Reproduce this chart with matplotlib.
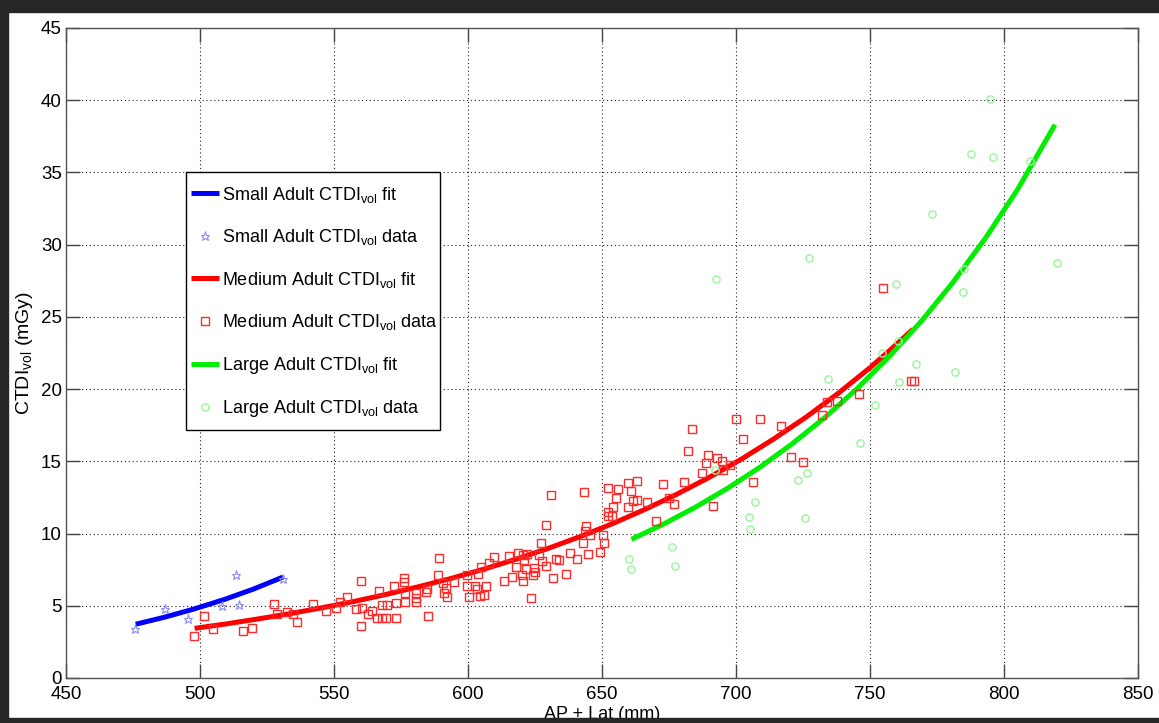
import matplotlib
matplotlib.use("Agg")
import matplotlib.pyplot as plt
from matplotlib.patches import Rectangle

plt.rcParams['font.family'] = ['Liberation Sans', 'DejaVu Sans']
plt.rcParams['mathtext.fontset'] = 'custom'
plt.rcParams['mathtext.rm'] = 'Liberation Sans'
plt.rcParams['mathtext.it'] = 'Liberation Sans'

# ---------------- data ----------------
small_x = [475.7, 487.0, 495.6, 508.1, 513.4, 514.6, 531.1]
small_y = [3.39, 4.78, 4.09, 5.00, 7.13, 5.05, 6.86]

small_fit_x = [476, 487, 498, 509, 520, 531]
small_fit_y = [3.72, 4.22, 4.79, 5.43, 6.16, 6.99]

medium_x = [501.5, 497.8, 505.0, 516.2, 519.3, 527.6, 528.8, 532.6, 534.8, 536.1,
            542.3, 547.0, 550.7, 552.2, 554.7, 558.2, 560.0, 560.0, 560.3, 562.6,
            564.0, 565.9, 566.8, 567.8, 567.8, 569.4, 569.9, 572.5, 573.1, 573.1,
            576.1, 576.1, 576.5, 576.5, 580.6, 580.6, 580.6, 584.6, 584.3, 585.2,
            589.3, 588.9, 590.8, 591.8, 591.0, 592.3, 594.8, 599.7, 599.5, 600.4,
            602.6, 603.5, 603.9, 604.5, 604.9, 606.0, 606.7, 607.9, 609.8, 613.5,
            615.4, 616.5, 617.9, 618.5, 620.4, 620.0, 620.6, 621.0, 621.6, 622.1,
            623.5, 624.1, 624.7, 625.0, 626.5, 627.4, 627.7, 629.1, 629.0, 630.9,
            631.8, 632.8, 634.0, 636.5, 638.1, 640.8, 643.3, 643.0, 643.7, 644.0,
            644.9, 645.5, 649.3, 650.3, 650.7, 652.3, 652.3, 652.3, 653.6, 654.0,
            655.2, 656.1, 659.6, 660.7, 659.6, 661.7, 663.2, 663.2, 666.7, 670.1,
            672.9, 675.1, 676.9, 680.6, 682.0, 683.7, 687.2, 688.7, 689.4, 691.3,
            693.0, 694.7, 695.3, 697.8, 699.9, 702.5, 706.2, 709.0, 716.8, 720.5,
            725.0, 732.2, 734.1, 737.6, 746.0, 754.7, 765.2, 766.5]
medium_y = [4.32, 2.91, 3.39, 3.28, 3.49, 5.10, 4.43, 4.55, 4.43, 3.90,
            5.10, 4.66, 4.82, 5.24, 5.59, 4.75, 6.72, 3.62, 4.87, 4.41,
            4.64, 4.13, 6.02, 5.05, 4.18, 4.13, 5.03, 6.37, 5.22, 4.18,
            6.90, 6.67, 5.86, 5.24, 5.91, 5.56, 5.28, 6.14, 5.93, 4.31,
            8.33, 7.13, 6.60, 6.21, 5.86, 5.59, 6.67, 7.13, 6.37, 5.63,
            6.37, 6.14, 7.20, 5.70, 7.71, 5.75, 6.37, 7.98, 8.40, 6.72,
            8.45, 7.02, 7.71, 8.63, 8.52, 7.13, 6.72, 8.17, 7.55, 8.57,
            5.52, 7.13, 7.60, 7.36, 8.52, 9.33, 8.12, 10.60, 7.76, 12.67,
            6.95, 8.22, 8.17, 7.20, 8.63, 8.26, 12.90, 9.37, 10.18, 10.53,
            8.61, 9.90, 8.75, 9.90, 9.37, 13.18, 11.52, 11.22, 11.22, 11.86,
            12.49, 13.07, 13.48, 12.97, 11.86, 12.26, 13.66, 12.33, 12.21, 10.89,
            13.41, 12.49, 12.05, 13.60, 15.72, 17.22, 14.22, 14.91, 15.44, 11.91,
            15.26, 15.03, 14.40, 14.75, 17.92, 16.55, 13.55, 17.92, 17.47, 15.30,
            14.96, 18.21, 19.11, 19.18, 19.65, 27.03, 20.57, 20.57]

medium_fit_x = [498, 510, 522, 534, 546, 558, 570, 582, 594, 606, 618, 630, 642,
                654, 666, 678, 690, 702, 714, 726, 738, 750, 758, 766]
medium_fit_y = [3.44, 3.75, 4.10, 4.47, 4.88, 5.32, 5.81, 6.34, 6.91, 7.54, 8.23,
                8.98, 9.80, 10.69, 11.67, 12.73, 13.89, 15.15, 16.54, 18.04,
                19.69, 21.48, 22.78, 24.14]

large_x = [660.2, 660.8, 676.0, 677.1, 692.2, 692.5, 704.9, 705.2, 707.1, 723.3,
           725.9, 726.4, 727.4, 734.2, 746.2, 751.7, 754.6, 759.7, 760.3, 760.8,
           767.3, 773.3, 781.8, 784.8, 785.1, 787.6, 794.8, 796.0, 809.7, 819.7]
large_y = [8.24, 7.55, 9.07, 7.76, 14.40, 27.63, 11.17, 10.30, 12.19, 13.73,
           11.10, 14.20, 29.11, 20.71, 16.25, 18.90, 22.48, 27.28, 23.36, 20.48,
           21.72, 32.13, 21.19, 26.75, 28.32, 36.27, 40.07, 36.06, 35.80, 28.76]

large_fit_x = [661, 673, 685, 697, 709, 721, 733, 745, 757, 769, 781, 793, 805, 819]
large_fit_y = [9.60, 10.66, 11.84, 13.15, 14.60, 16.22, 18.01, 20.00, 22.22,
               24.67, 27.40, 30.43, 33.80, 38.30]

x_ticks = [450, 500, 550, 600, 650, 700, 750, 800, 850]
y_ticks = [0, 5, 10, 15, 20, 25, 30, 35, 40, 45]

labels = ['Small Adult CTDI$_{\\mathrm{vol}}$ fit',
          'Small Adult CTDI$_{\\mathrm{vol}}$ data',
          'Medium Adult CTDI$_{\\mathrm{vol}}$ fit',
          'Medium Adult CTDI$_{\\mathrm{vol}}$ data',
          'Large Adult CTDI$_{\\mathrm{vol}}$ fit',
          'Large Adult CTDI$_{\\mathrm{vol}}$ data']

# ---------------- figure ----------------
W, H = 1159, 723
fig = plt.figure(figsize=(W / 100, H / 100), dpi=100, facecolor='white')
ax_l, ax_r, ax_t, ax_b = 66, 1138, 28, 678
ax = fig.add_axes([ax_l / W, (H - ax_b) / H, (ax_r - ax_l) / W, (ax_b - ax_t) / H])

h1, = ax.plot(small_fit_x, small_fit_y, color='#0000ff', lw=3.6, solid_capstyle='butt', zorder=3)
h2, = ax.plot(small_x, small_y, ls='none', marker='*', ms=6.5, mfc='none',
              mec='#8a8aff', mew=0.8, zorder=4)
h3, = ax.plot(medium_fit_x, medium_fit_y, color='#ff0000', lw=3.6, solid_capstyle='butt', zorder=3)
h4, = ax.plot(medium_x, medium_y, ls='none', marker='s', ms=5.2, mfc='none',
              mec='#ff2a2a', mew=1.0, zorder=4)
h5, = ax.plot(large_fit_x, large_fit_y, color='#00ee00', lw=3.6, solid_capstyle='butt', zorder=3)
h6, = ax.plot(large_x, large_y, ls='none', marker='o', ms=5.2, mfc='none',
              mec='#99f599', mew=1.0, zorder=4)

ax.set_xlim(450, 850)
ax.set_ylim(0, 45)
ax.set_xticks(x_ticks)
ax.set_yticks(y_ticks)
ax.grid(True, color='#222222', ls=(0, (1, 2.5)), lw=0.8)
ax.tick_params(direction='in', length=10, width=1.0, color='#444444',
               top=True, right=True, labelsize=13.5)
ax.tick_params(axis='x', pad=6)
ax.tick_params(axis='y', pad=3)
for s in ax.spines.values():
    s.set_color('#555555')
    s.set_linewidth(1.0)

ax.set_xlabel('AP + Lat (mm)', fontsize=13, labelpad=2)
ax.set_ylabel('CTDI$_{\\mathrm{vol}}$ (mGy)', fontsize=14, labelpad=4)

# legend frame drawn separately (box 186..440 x 172..430 px)
lx0, ly0, lx1, ly1 = 186, 172, 440, 430
ax.add_patch(Rectangle((lx0 / W, 1 - ly1 / H), (lx1 - lx0) / W, (ly1 - ly0) / H,
                       transform=fig.transFigure, facecolor='white',
                       edgecolor='black', lw=1.0, zorder=4.8))

leg = ax.legend([h1, h2, h3, h4, h5, h6], labels, loc='upper left',
                bbox_to_anchor=((lx0 - 8 - ax_l) / (ax_r - ax_l), (ax_b - ly0) / (ax_b - ax_t)),
                borderaxespad=0, frameon=False,
                fontsize=13, numpoints=1, handlelength=1.55, handletextpad=0.2,
                labelspacing=1.25, borderpad=0.7)
leg.set_zorder(5)

# dark screenshot border
dark = '#262626'
fig.add_artist(Rectangle((0, 1 - 12 / H), 1, 12 / H, transform=fig.transFigure,
                         color=dark, zorder=10))
fig.add_artist(Rectangle((0, 0), 8 / W, 1, transform=fig.transFigure,
                         color=dark, zorder=10))
fig.add_artist(Rectangle((0, 0), 1, 5 / H, transform=fig.transFigure,
                         color=dark, zorder=10))

fig.savefig('out.png', dpi=100, facecolor='white')
